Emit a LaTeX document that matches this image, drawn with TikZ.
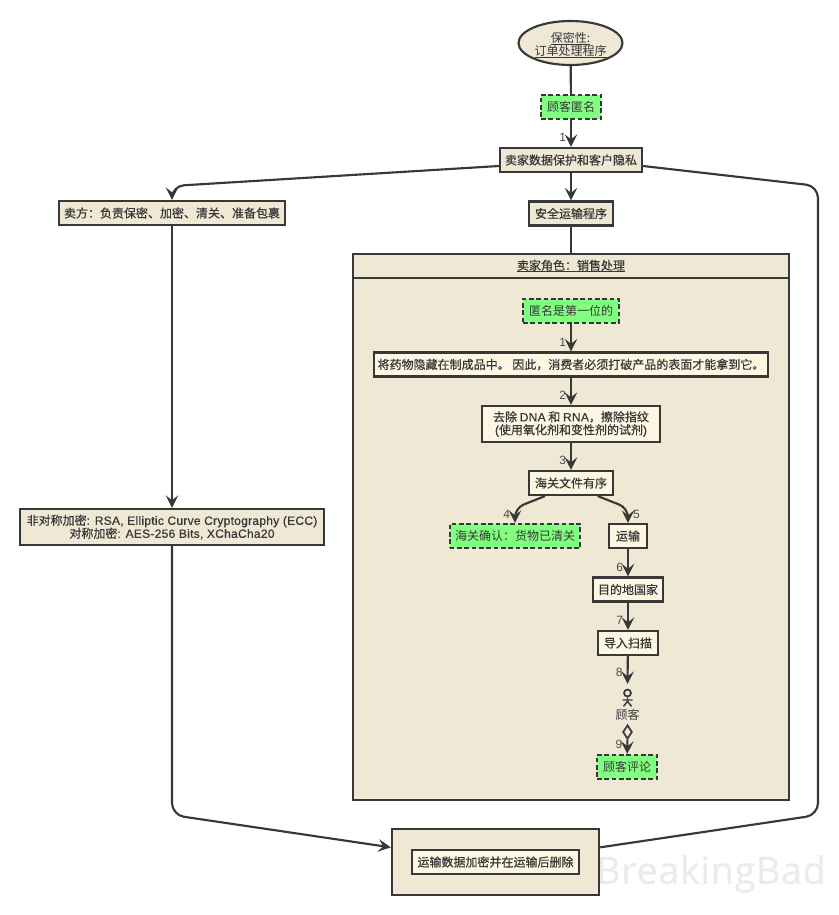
\documentclass[tikz,border=0pt]{standalone}
\usepackage{fontspec}
\setmainfont{Liberation Sans}
\newfontfamily\cjk{Noto Sans CJK SC}
\newfontfamily\cjkb[FakeBold=0.6]{Noto Sans CJK SC}
\newfontfamily\latb[FakeBold=0.7,LetterSpace=2.3]{Liberation Sans}
\newfontfamily\wmark[FakeBold=0.6,LetterSpace=2]{Open Sans}
\usetikzlibrary{arrows.meta,shapes.geometric,calc}
\definecolor{inkc}{HTML}{383838}
\definecolor{beigec}{HTML}{EEE8D5}
\definecolor{creamc}{HTML}{FDF6E3}
\definecolor{greenc}{HTML}{80FF80}
\newcommand{\ulin}[1]{{\setbox0\hbox{#1}\rlap{\raisebox{-1.8pt}{\rule{\wd0}{0.75pt}}}\box0}}
\tikzset{
  basebox/.style={draw=inkc,line width=1.6pt,text=inkc,inner sep=0pt,align=center,
    font=\cjkb\fontsize{9}{9.75}\selectfont,minimum height=18pt},
  outerbox/.style={basebox,fill=beigec},
  innerbox/.style={basebox,fill=creamc},
  notebox/.style={basebox,fill=greenc,dash pattern=on 3.5pt off 2pt,font=\cjk\fontsize{9}{9.75}\selectfont},
  link/.style={draw=inkc,line width=1.6pt},
  flow/.style={link,-{Stealth[length=9.5pt,width=9.5pt,inset=3.8pt,line width=1pt]}},
  numlab/.style={text=inkc!90,inner sep=0pt,font=\rmfamily\fontsize{9}{9}\selectfont},
}
\begin{document}
\begin{tikzpicture}[x=0.75pt,y=-0.75pt]
\useasboundingbox (0,0) rectangle (839,915);

\node[text=black!8,inner sep=0pt,font=\wmark\fontsize{28.2}{29}\selectfont] (logo) at (711,874) {BreakingBad};

% top of the flow
\node[ellipse,draw=inkc,line width=1.6pt,fill=beigec,text=inkc,inner sep=0pt,align=center,minimum width=78pt,minimum height=33pt,
  font=\cjk\fontsize{9}{9.75}\selectfont] (start) at (570.5,43) {\rule{0pt}{11pt}\ulin{保密性:}\\\ulin{订单处理程序}};
\node[notebox,minimum width=45pt] (anon) at (571,107) {顾客匿名};
\node[outerbox,minimum width=106.5pt] (protect) at (571,160) {卖家数据保护和客户隐私};
\node[outerbox,minimum width=62.5pt] (safe) at (571,213.5) {安全运输程序};
\node[outerbox,minimum width=169.5pt] (seller) at (172,213) {卖方：负责保密、加密、清关、准备包裹};
\node[outerbox,minimum width=228pt,minimum height=27pt] (crypto) at (172,527)
  {非对称加密{\latb : RSA, Elliptic Curve Cryptography (ECC)}\\对称加密{\latb : AES-256 Bits, XChaCha20}};

% seller role box
\node[draw=inkc,line width=1.6pt,fill=beigec,minimum width=327pt,minimum height=409.5pt,inner sep=0pt] (role) at (571,527) {};
\node[outerbox,anchor=north,minimum width=327pt] (rolehead) at (role.north) {\ulin{卖家角色：销售处理}};
\node[notebox,minimum width=72pt] (first) at (571,311) {匿名是第一位的};
\node[innerbox,minimum width=295.5pt] (hide) at (571,364.5) {将药物隐藏在制成品中。 因此，消费者必须打破产品的表面才能拿到它。};
\node[innerbox,minimum width=133.5pt,minimum height=27pt] (wipe) at (571,424)
  {去除 {\latb DNA} 和 {\latb RNA}，擦除指纹\\{\latb (}使用氧化剂和变性剂的试剂{\latb )}};
\node[innerbox,minimum width=63pt] (customs) at (571,483) {海关文件有序};
\node[notebox,minimum width=98pt] (clear) at (515,536) {海关确认：货物已清关};
\node[innerbox,minimum width=28pt] (ship) at (628,536) {运输};
\node[innerbox,minimum width=53pt] (dest) at (628,589.5) {目的地国家};
\node[innerbox,minimum width=45pt] (scan) at (628,643) {导入扫描};
\node[circle,draw=inkc,line width=1.3pt,minimum size=5.2pt,inner sep=0pt] (head) at (627.5,693) {};
\node[text=inkc,inner sep=0pt,font=\cjk\fontsize{9}{9}\selectfont] (buyer) at (627.5,715) {顾客};
\node[diamond,draw=inkc,line width=1.3pt,fill=beigec,minimum width=7pt,minimum height=10.5pt,inner sep=0pt] (rate) at (627.5,732) {};
\node[notebox,minimum width=45pt] (review) at (627,767) {顾客评论};

% bottom box
\node[draw=inkc,line width=1.6pt,fill=beigec,minimum width=155.5pt,minimum height=49.5pt,inner sep=0pt] (store) at (495.5,862) {};
\node[innerbox,minimum width=125pt] (erase) at (store.center) {运输数据加密并在运输后删除};

\coordinate (bendl) at (172,186);
\coordinate (bendr) at (818,186);
\coordinate (bendrb) at (818,815);
\coordinate (bendlb) at (172,815);
\coordinate (bend4) at (515,508);
\coordinate (bend5) at (628,508);

\draw[link] (start) -- (anon);
\draw[flow] (anon) -- node[numlab,pos=.65,left=3pt] {1} (protect);
\draw[flow] (protect) -- (safe);
\draw[link] (safe) -- (role);
\draw[flow,rounded corners=9pt] ([yshift=-4.5pt]protect.west) -- (bendl) -- (seller);
\draw[flow] (seller) -- (crypto);
\draw[flow,rounded corners=9pt] (crypto) -- (bendlb) -- ([yshift=11pt]store.west);
\draw[link,rounded corners=9pt] ([yshift=-4.5pt]protect.east) -- (bendr) -- (bendrb) -- ([yshift=11pt]store.east);

\draw[flow] (first) -- node[numlab,pos=.68,left=3pt] {1} (hide);
\draw[flow] (hide) -- node[numlab,pos=.65,left=3pt] {2} (wipe);
\draw[flow] (wipe) -- node[numlab,pos=.65,left=3pt] {3} (customs);
\draw[flow,rounded corners=7pt] ([xshift=-19.5pt]customs.south) -- (bend4) -- (clear) node[numlab,pos=.45,left=3pt] {4};
\draw[flow,rounded corners=7pt] ([xshift=20pt]customs.south) -- (bend5) -- (ship) node[numlab,pos=.45,right=3pt] {5};
\draw[flow] (ship) -- node[numlab,pos=.68,left=3pt] {6} (dest);
\draw[flow] (dest) -- node[numlab,pos=.65,left=3pt] {7} (scan);
\draw[flow] (scan) -- node[numlab,pos=.6,left=3pt] {8} ([yshift=3.5pt]head.north);
\draw[flow] (rate) -- node[numlab,pos=.3,left=3pt] {9} (review);

% stick figure
\draw[inkc,line width=1.1pt] (head.south) -- ++(0,4) coordinate (hip) -- ++(-4,5) (hip) -- ++(4,5)
  ([yshift=-2pt]head.south) ++(-5,0) -- ++(10,0);
\end{tikzpicture}
\end{document}
